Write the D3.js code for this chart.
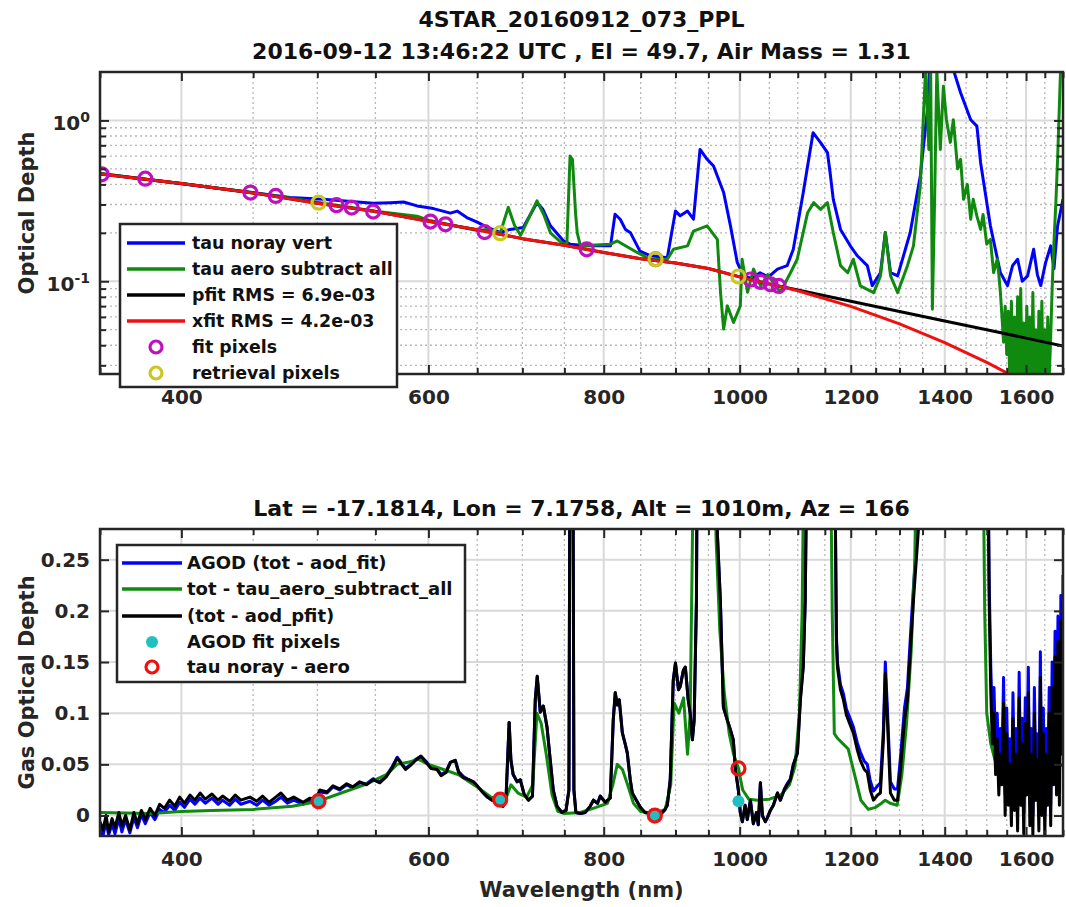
<!DOCTYPE html>
<html lang="en">
  <head>
    <meta charset="UTF-8" />
    <script src="https://d3js.org/d3.v7.min.js"></script>
    <title>4STAR optical depth</title>
    <style type="text/css">
      body {
        margin: 0;
        background: #fff;
      }
      svg {
        display: block;
        font-family: 'DejaVu Sans', sans-serif;
        font-weight: bold;
      }
      .grid-major {
        stroke: #d9d9d9;
        stroke-width: 2;
      }
      .grid-minor {
        stroke: #b8b8b8;
        stroke-width: 1.3;
        stroke-dasharray: 2 3;
      }
      .tick line {
        stroke: #262626;
        stroke-width: 2;
      }
      .tick text {
        fill: #262626;
        font-size: 20px;
        font-family: 'DejaVu Sans', sans-serif;
        font-weight: bold;
      }
      .frame {
        fill: none;
        stroke: #262626;
        stroke-width: 2.5;
      }
      .title {
        fill: #111;
        font-size: 22px;
        text-anchor: middle;
      }
      .axis-label {
        fill: #262626;
        font-size: 21px;
        text-anchor: middle;
      }
      .legend-box {
        fill: #fff;
        stroke: #262626;
        stroke-width: 2.5;
      }
      .legend-text {
        fill: #111;
      }
    </style>
  </head>
  <body>
    <svg width="1066" height="907"></svg>
  </body>
  <script type="text/javascript">
    // ---- values ----
    const xTickLabels = [400, 600, 800, 1000, 1200, 1400, 1600];
    const xMinorTicks = [350, 450, 500, 550, 650, 700, 750, 850, 900, 950, 1050, 1100, 1150, 1250, 1300, 1350, 1450, 1500, 1550, 1650, 1700];
    const topMajorY = [0.1, 1];
    const topMinorY = [0.03, 0.04, 0.05, 0.06, 0.07, 0.08, 0.09, 0.2, 0.3, 0.4, 0.5, 0.6, 0.7, 0.8, 0.9];
    const bottomYTicks = [0, 0.05, 0.1, 0.15, 0.2, 0.25];

    // top panel: [wavelength nm, optical depth]
    const tauNorayVert = [
      [350, 0.468], [377, 0.43], [448, 0.357], [478, 0.332], [505, 0.323], [534, 0.311], [548, 0.305], [564, 0.308],
      [576, 0.311], [589, 0.294], [605, 0.283], [622, 0.265], [629, 0.273], [639, 0.249], [650, 0.233], [661, 0.216],
      [675, 0.201], [686, 0.21], [701, 0.216], [717, 0.308], [724, 0.28], [733, 0.221], [749, 0.178], [757, 0.17],
      [778, 0.166], [809, 0.166], [815, 0.261], [822, 0.243], [829, 0.21], [836, 0.2], [849, 0.154], [864, 0.144],
      [888, 0.14], [900, 0.273], [907, 0.255], [918, 0.273], [927, 0.243], [937, 0.66], [948, 0.573], [958, 0.52],
      [974, 0.356], [985, 0.221], [996, 0.131], [1006, 0.108], [1020, 0.104], [1034, 0.113], [1048, 0.106], [1064, 0.119],
      [1081, 0.125], [1092, 0.158], [1110, 0.356], [1128, 0.839], [1142, 0.727], [1155, 0.63], [1160, 0.473], [1166, 0.323],
      [1180, 0.21], [1199, 0.166], [1213, 0.144], [1233, 0.125], [1243, 0.094], [1260, 0.113], [1270, 0.201], [1281, 0.113],
      [1296, 0.108], [1323, 0.201], [1345, 0.451], [1361, 1.17], [1368, 2.6], [1415, 2.6], [1420, 2.07], [1437, 1.486],
      [1461, 1.01], [1476, 0.922], [1485, 0.546], [1509, 0.221], [1534, 0.113], [1552, 0.094], [1565, 0.125], [1578, 0.137],
      [1590, 0.1], [1604, 0.108], [1620, 0.158], [1630, 0.11], [1639, 0.094], [1652, 0.13], [1666, 0.166], [1675, 0.12],
      [1685, 0.221], [1700, 0.323],
    ];
    const tauAeroSubtractAll = [
      [350, 0.468], [400, 0.405], [450, 0.355], [500, 0.31], [550, 0.272], [589, 0.254], [600, 0.24], [650, 0.207],
      [661, 0.21], [675, 0.199], [684, 0.288], [691, 0.223], [698, 0.193], [717, 0.316], [725, 0.26], [733, 0.2],
      [745, 0.176], [753, 0.168], [757, 0.6], [760, 0.57], [764, 0.26], [766, 0.2], [770, 0.166], [809, 0.17],
      [818, 0.178], [845, 0.151], [864, 0.137], [888, 0.137], [897, 0.158], [918, 0.166], [927, 0.205], [948, 0.221],
      [964, 0.182], [969, 0.0855], [974, 0.0504], [980, 0.0703], [990, 0.0554], [1001, 0.0703], [1004, 0.137], [1013, 0.0855],
      [1023, 0.119], [1035, 0.0935], [1047, 0.11], [1069, 0.0855], [1087, 0.113], [1099, 0.137], [1118, 0.267], [1129, 0.308],
      [1142, 0.28], [1155, 0.308], [1166, 0.201], [1180, 0.125], [1194, 0.113], [1205, 0.137], [1219, 0.0935], [1246, 0.085],
      [1260, 0.108], [1270, 0.201], [1281, 0.108], [1296, 0.085], [1317, 0.125], [1330, 0.166], [1345, 0.391], [1357, 2.17],
      [1364, 0.66], [1368, 2.4], [1372, 0.067], [1377, 0.32], [1382, 2.07], [1390, 0.66], [1397, 1.63], [1404, 1.01],
      [1413, 0.73], [1420, 1.01], [1430, 0.5], [1437, 0.573], [1444, 0.323], [1453, 0.4], [1461, 0.243], [1467, 0.323],
      [1476, 0.254], [1485, 0.21], [1491, 0.26], [1500, 0.17], [1509, 0.182], [1517, 0.113], [1526, 0.137], [1530, 0.11],
      [1534, 0.0855], [1538, 0.06], [1542, 0.0418], [1546, 0.07], [1550, 0.035], [1554, 0.065], [1558, 0.022], [1562, 0.075],
      [1566, 0.02], [1570, 0.06], [1574, 0.018], [1578, 0.08], [1582, 0.025], [1586, 0.09], [1590, 0.02], [1594, 0.055],
      [1598, 0.018], [1602, 0.07], [1606, 0.022], [1610, 0.06], [1614, 0.018], [1618, 0.085], [1622, 0.02], [1626, 0.05],
      [1630, 0.018], [1634, 0.065], [1638, 0.022], [1642, 0.075], [1646, 0.018], [1650, 0.05], [1654, 0.02], [1658, 0.06],
      [1662, 0.025], [1666, 0.045], [1670, 0.09], [1674, 0.158], [1680, 0.3], [1685, 0.573], [1693, 2.0], [1700, 2.5],
    ];
    const pfit = [
      [350, 0.464], [400, 0.405], [450, 0.354], [500, 0.305], [550, 0.271], [600, 0.236], [650, 0.209], [700, 0.184],
      [750, 0.1675], [800, 0.151], [850, 0.138], [900, 0.13], [950, 0.12], [1000, 0.1065], [1050, 0.096], [1066, 0.0935],
      [1100, 0.0883], [1200, 0.0751], [1300, 0.0649], [1400, 0.0566], [1500, 0.0499], [1600, 0.0443], [1700, 0.0396],
    ];
    const xfit = [
      [350, 0.464], [400, 0.405], [450, 0.354], [500, 0.305], [550, 0.271], [600, 0.236], [650, 0.209], [700, 0.184],
      [750, 0.1675], [800, 0.151], [850, 0.138], [900, 0.13], [950, 0.12], [1000, 0.1065], [1050, 0.096], [1066, 0.0935],
      [1100, 0.0873], [1200, 0.0698], [1300, 0.0543], [1400, 0.0415], [1500, 0.0313], [1600, 0.0233], [1700, 0.0172],
    ];
    const fitPixels = [
      [351, 0.462], [377, 0.434], [448, 0.356], [467, 0.339], [516, 0.297], [529, 0.287], [548, 0.271], [602, 0.235],
      [617, 0.226], [658, 0.202], [778, 0.158], [871, 0.137], [1018, 0.1025], [1035, 0.099], [1052, 0.0958], [1066, 0.0935],
    ];
    const retrievalPixels = [[501, 0.308], [675, 0.199], [871, 0.137], [998, 0.107]];

    // bottom panel: shared wavelength grid for the two AGOD curves
    const gasWl = [
      350, 351.7, 353.5, 355, 357, 358.7, 361, 362.8, 365, 367.6,
      370, 372.2, 374.6, 377, 380, 383, 386, 389, 392.4, 395.7,
      398.9, 402, 405.7, 409, 412.5, 416, 420.6, 424.8, 428, 433,
      437, 441, 447.7, 452.7, 457, 462, 467, 471, 476, 481,
      488.5, 494, 499, 502, 508, 513, 518.6, 524.7, 530, 536,
      542, 548, 554, 560, 565, 570, 575, 577.8, 582.6, 587.6,
      592.6, 597.6, 602.6, 608.5, 612.6, 617.6, 622, 627, 630.5, 635.5,
      641, 646, 650, 655.6, 661, 666, 672.7, 678, 681.4, 685,
      687, 689.5, 694, 697.6, 702, 707, 711.7, 715, 717.3, 720.9,
      724.5, 729, 732.8, 736.4, 741, 747, 752, 755.6, 757, 760.5,
      761.8, 764.3, 770, 776, 782.4, 786.6, 792, 795.5, 802, 808.6,
      812.6, 815.3, 818, 820.7, 824.8, 829, 831.6, 835.6, 838.4, 844,
      849.5, 856, 863.6, 870.7, 877.8, 883.7, 888, 892.3, 896.7, 900,
      904.4, 907, 911.7, 914.7, 919, 922, 925.3, 928, 931.5, 933,
      962, 964, 968.8, 973.6, 980, 984.8, 989.6, 993, 997.8, 1001,
      1004.4, 1009, 1012.6, 1017.7, 1022.7, 1028, 1031, 1034.6, 1038, 1043,
      1046.6, 1051.6, 1056.8, 1064, 1069, 1076, 1081, 1086.8, 1092, 1099.4,
      1104.8, 1110, 1113.6, 1117.5, 1168.2, 1172, 1174, 1179.8, 1185.6, 1191.5,
      1199.3, 1205, 1213, 1219, 1227, 1233, 1239, 1245.6, 1254, 1259.8,
      1266, 1270, 1274.4, 1280.7, 1289, 1295.7, 1302, 1310.6, 1317, 1323.4,
      1330, 1336.3, 1341, 1343, 1502, 1506, 1510, 1514, 1518, 1522,
      1526, 1530, 1534, 1538, 1542, 1546, 1550, 1554, 1558, 1562,
      1566, 1570, 1574, 1578, 1582, 1586, 1590, 1594, 1598, 1602,
      1606, 1610, 1614, 1618, 1622, 1626, 1630, 1634, 1638, 1642,
      1646, 1650, 1654, 1658, 1662, 1666, 1670, 1674, 1678, 1682,
      1686, 1690, 1694, 1698, 1700,
    ];
    const gasPfit = [
      -0.006, -0.014, 0.0, -0.016, -0.003, -0.012, 0.003, -0.01, 0.0, -0.014,
      0.003, -0.008, 0.005, -0.004, 0.007, 0.0, 0.011, 0.007, 0.015, 0.009,
      0.018, 0.012, 0.02, 0.015, 0.022, 0.016, 0.021, 0.015, 0.019, 0.014,
      0.02, 0.015, 0.018, 0.014, 0.019, 0.013, 0.018, 0.022, 0.015, 0.018,
      0.013, 0.017, 0.016, 0.025, 0.023, 0.029, 0.026, 0.031, 0.028, 0.033,
      0.03, 0.035, 0.032, 0.038, 0.046, 0.056, 0.049, 0.045, 0.049, 0.054,
      0.058, 0.052, 0.046, 0.045, 0.039, 0.042, 0.052, 0.054, 0.042, 0.037,
      0.035, 0.033, 0.029, 0.023, 0.018, 0.015, 0.013, 0.009, 0.015, 0.091,
      0.054, 0.04, 0.033, 0.035, 0.021, 0.015, 0.019, 0.113, 0.136, 0.101,
      0.107, 0.086, 0.054, 0.025, 0.009, 0.003, 0.005, 0.025, 0.4, 0.4,
      0.025, 0.003, 0.002, 0.003, 0.009, 0.015, 0.012, 0.019, 0.013, 0.017,
      0.093, 0.12, 0.108, 0.113, 0.081, 0.069, 0.061, 0.035, 0.022, 0.015,
      0.008, 0.003, 0.002, 0.0, 0.001, 0.005, 0.01, 0.035, 0.132, 0.149,
      0.123, 0.126, 0.142, 0.145, 0.113, 0.1, 0.074, 0.093, 0.21, 0.4,
      0.4, 0.276, 0.21, 0.106, 0.093, 0.084, 0.074, 0.045, 0.025, 0.003,
      -0.006, 0.01, -0.004, 0.015, -0.008, 0.003, -0.009, 0.032, 0.0, -0.006,
      -0.002, 0.005, 0.01, 0.022, 0.015, 0.025, 0.03, 0.035, 0.049, 0.061,
      0.113, 0.145, 0.21, 0.4, 0.4, 0.172, 0.145, 0.123, 0.113, 0.098,
      0.088, 0.081, 0.064, 0.054, 0.045, 0.042, 0.025, 0.015, 0.02, 0.022,
      0.074, 0.139, 0.093, 0.022, 0.015, 0.015, 0.045, 0.093, 0.113, 0.162,
      0.21, 0.25, 0.28, 0.4, 0.4, 0.21, 0.12, 0.07, 0.1, 0.04,
      0.075, 0.02, 0.06, 0.03, 0.11, 0.0, 0.08, 0.01, 0.05, -0.01,
      0.095, 0.005, 0.06, -0.015, 0.115, 0.01, 0.07, -0.018, 0.09, 0.02,
      0.12, -0.01, 0.06, -0.02, 0.1, 0.015, 0.055, -0.015, 0.135, 0.0,
      0.08, -0.02, 0.06, 0.01, 0.1, -0.01, 0.125, 0.03, 0.155, 0.02,
      0.17, 0.01, 0.19, 0.06, 0.21,
    ];
    const gasAgod = [
      -0.012, -0.02, -0.006, -0.019, -0.008, -0.018, -0.003, -0.016, -0.004, -0.017,
      -0.002, -0.012, 0.001, -0.008, 0.003, -0.004, 0.006, 0.003, 0.01, 0.005,
      0.013, 0.008, 0.016, 0.011, 0.017, 0.012, 0.017, 0.011, 0.015, 0.01,
      0.016, 0.011, 0.014, 0.01, 0.015, 0.01, 0.014, 0.018, 0.012, 0.015,
      0.011, 0.015, 0.014, 0.023, 0.022, 0.028, 0.025, 0.03, 0.027, 0.032,
      0.031, 0.036, 0.033, 0.039, 0.047, 0.057, 0.05, 0.046, 0.05, 0.055,
      0.058, 0.053, 0.047, 0.046, 0.04, 0.043, 0.052, 0.054, 0.043, 0.038,
      0.035, 0.033, 0.029, 0.023, 0.018, 0.015, 0.013, 0.009, 0.015, 0.091,
      0.054, 0.04, 0.033, 0.035, 0.021, 0.015, 0.019, 0.113, 0.136, 0.101,
      0.107, 0.086, 0.054, 0.025, 0.009, 0.003, 0.005, 0.025, 0.4, 0.4,
      0.025, 0.003, 0.002, 0.003, 0.009, 0.015, 0.012, 0.019, 0.013, 0.017,
      0.093, 0.12, 0.108, 0.113, 0.081, 0.069, 0.061, 0.035, 0.022, 0.015,
      0.008, 0.003, 0.002, 0.0, 0.001, 0.005, 0.01, 0.035, 0.132, 0.149,
      0.123, 0.126, 0.142, 0.145, 0.113, 0.1, 0.074, 0.093, 0.21, 0.4,
      0.4, 0.276, 0.21, 0.106, 0.093, 0.084, 0.074, 0.045, 0.025, 0.003,
      -0.006, 0.01, -0.004, 0.015, -0.008, 0.003, -0.009, 0.032, 0.0, -0.006,
      -0.002, 0.005, 0.01, 0.022, 0.015, 0.026, 0.031, 0.036, 0.05, 0.062,
      0.115, 0.147, 0.212, 0.4, 0.4, 0.177, 0.15, 0.128, 0.119, 0.104,
      0.094, 0.087, 0.071, 0.062, 0.053, 0.05, 0.034, 0.024, 0.029, 0.032,
      0.084, 0.15, 0.104, 0.033, 0.026, 0.026, 0.057, 0.105, 0.125, 0.175,
      0.223, 0.263, 0.294, 0.4, 0.4, 0.23, 0.145, 0.09, 0.125, 0.06,
      0.1, 0.04, 0.085, 0.05, 0.135, 0.02, 0.105, 0.03, 0.075, 0.01,
      0.12, 0.025, 0.085, 0.005, 0.14, 0.03, 0.095, 0.002, 0.115, 0.04,
      0.145, 0.01, 0.085, 0.0, 0.125, 0.035, 0.08, 0.005, 0.16, 0.02,
      0.105, 0.0, 0.085, 0.03, 0.125, 0.01, 0.15, 0.05, 0.18, 0.04,
      0.195, 0.03, 0.215, 0.08, 0.235,
    ];
    const gasSubtractAll = [
      [350, 0.003], [380, 0.002], [400, 0.004], [420, 0.005], [450, 0.006], [480, 0.009], [501, 0.014], [520, 0.022],
      [540, 0.03], [560, 0.04], [570, 0.05], [580, 0.052], [590, 0.055], [600, 0.05], [615, 0.045], [630, 0.04],
      [650, 0.028], [665, 0.018], [675, 0.015], [682, 0.018], [687, 0.03], [695, 0.022], [705, 0.018], [712, 0.03],
      [717, 0.1], [722, 0.09], [728, 0.06], [735, 0.02], [742, 0.004], [750, 0.002], [770, 0.003], [790, 0.008],
      [805, 0.012], [812, 0.03], [818, 0.05], [825, 0.045], [832, 0.03], [840, 0.012], [850, 0.004], [870, 0.002],
      [885, 0.006], [893, 0.03], [898, 0.11], [905, 0.1], [912, 0.115], [918, 0.06], [922, 0.1], [925, 0.25],
      [928, 0.4], [958, 0.4], [962, 0.27], [968, 0.18], [975, 0.12], [983, 0.08], [990, 0.06], [998, 0.046],
      [1005, 0.025], [1015, 0.016], [1030, 0.015], [1050, 0.016], [1070, 0.02], [1085, 0.03], [1095, 0.048], [1103, 0.1],
      [1108, 0.2], [1112, 0.4], [1160, 0.4], [1164, 0.2], [1168, 0.08], [1175, 0.075], [1185, 0.07], [1195, 0.065],
      [1210, 0.035], [1220, 0.015], [1235, 0.006], [1250, 0.008], [1262, 0.012], [1270, 0.015], [1280, 0.012], [1295, 0.01],
      [1305, 0.04], [1315, 0.09], [1325, 0.16], [1333, 0.25], [1338, 0.4], [1490, 0.4], [1495, 0.2], [1500, 0.1],
      [1510, 0.07], [1530, 0.04], [1560, 0.03], [1600, 0.03], [1650, 0.04], [1700, 0.05],
    ];
    const agodFitPixels = [[501, 0.014], [675, 0.0155], [870, 0.0], [998, 0.014]];
    const tauNorayMinusAero = [[501, 0.014], [675, 0.0155], [870, 0.0], [998, 0.046]];

    // ---- layout ----
    const left = 100;
    const right = 1063;
    const topPanel = { top: 72, bottom: 374 };
    const botPanel = { top: 529, bottom: 836 };

    const svg = d3.select('svg');

    const x = d3.scaleLog().domain([350, 1700]).range([left, right]);
    const yTop = d3.scaleLog().domain([0.0265, 2]).range([topPanel.bottom, topPanel.top]);
    const yBot = d3.scaleLinear().domain([-0.02, 0.28]).range([botPanel.bottom, botPanel.top]);

    const defs = svg.append('defs');
    [['clip-top', topPanel], ['clip-bot', botPanel]].forEach(([id, p]) => {
      defs.append('clipPath').attr('id', id)
        .append('rect').attr('x', left).attr('y', p.top).attr('width', right - left).attr('height', p.bottom - p.top);
    });

    // grid lines under everything
    function drawGrid(g, p, yScale, yMajor, yMinor) {
      g.selectAll('.vminor').data(xMinorTicks).enter().append('line').attr('class', 'grid-minor')
        .attr('x1', (d) => x(d)).attr('x2', (d) => x(d)).attr('y1', p.top).attr('y2', p.bottom);
      g.selectAll('.vmajor').data(xTickLabels).enter().append('line').attr('class', 'grid-major')
        .attr('x1', (d) => x(d)).attr('x2', (d) => x(d)).attr('y1', p.top).attr('y2', p.bottom);
      g.selectAll('.hminor').data(yMinor).enter().append('line').attr('class', 'grid-minor')
        .attr('x1', left).attr('x2', right).attr('y1', (d) => yScale(d)).attr('y2', (d) => yScale(d));
      g.selectAll('.hmajor').data(yMajor).enter().append('line').attr('class', 'grid-major')
        .attr('x1', left).attr('x2', right).attr('y1', (d) => yScale(d)).attr('y2', (d) => yScale(d));
    }

    // box + inward ticks on all four sides
    function drawAxes(g, p, yScale, yMajor, yMinor, yFormat) {
      const noDomain = (a) => a.select('.domain').remove();
      g.append('g').attr('transform', `translate(0,${p.bottom})`)
        .call(d3.axisBottom(x).tickValues(xTickLabels).tickFormat(d3.format('d')).tickSize(-9).tickPadding(16))
        .call(noDomain);
      g.append('g').attr('transform', `translate(0,${p.bottom})`)
        .call(d3.axisBottom(x).tickValues(xMinorTicks).tickFormat('').tickSize(-6)).call(noDomain);
      g.append('g').attr('transform', `translate(0,${p.top})`)
        .call(d3.axisTop(x).tickValues(xTickLabels).tickFormat('').tickSize(-9)).call(noDomain);
      g.append('g').attr('transform', `translate(0,${p.top})`)
        .call(d3.axisTop(x).tickValues(xMinorTicks).tickFormat('').tickSize(-6)).call(noDomain);

      const yl = g.append('g').attr('transform', `translate(${left},0)`)
        .call(d3.axisLeft(yScale).tickValues(yMajor).tickFormat(yFormat).tickSize(-9).tickPadding(10))
        .call(noDomain);
      g.append('g').attr('transform', `translate(${right},0)`)
        .call(d3.axisRight(yScale).tickValues(yMajor).tickFormat('').tickSize(-9)).call(noDomain);
      if (yMinor.length) {
        g.append('g').attr('transform', `translate(${left},0)`)
          .call(d3.axisLeft(yScale).tickValues(yMinor).tickFormat('').tickSize(-6)).call(noDomain);
        g.append('g').attr('transform', `translate(${right},0)`)
          .call(d3.axisRight(yScale).tickValues(yMinor).tickFormat('').tickSize(-6)).call(noDomain);
      }
      g.append('rect').attr('class', 'frame')
        .attr('x', left).attr('y', p.top).attr('width', right - left).attr('height', p.bottom - p.top);
      return yl;
    }

    function addLegend(g, box, rows) {
      g.append('rect').attr('class', 'legend-box')
        .attr('x', box.x).attr('y', box.y).attr('width', box.w).attr('height', box.h);
      rows.forEach((r) => {
        const cx = (box.lx1 + box.lx2) / 2;
        if (r.kind === 'line') {
          g.append('line').attr('x1', box.lx1).attr('x2', box.lx2).attr('y1', r.y).attr('y2', r.y)
            .attr('stroke', r.color).attr('stroke-width', 3.5);
        } else if (r.kind === 'ring') {
          g.append('circle').attr('cx', cx).attr('cy', r.y).attr('r', 6)
            .attr('fill', 'none').attr('stroke', r.color).attr('stroke-width', 3.2);
        } else {
          g.append('circle').attr('cx', cx).attr('cy', r.y).attr('r', 6).attr('fill', r.color);
        }
        g.append('text').attr('class', 'legend-text').attr('x', box.tx).attr('y', r.y).attr('dy', '0.36em')
          .attr('font-size', box.fs + 'px').text(r.label);
      });
    }

    const blue = '#0000ff';
    const green = '#0f8a0f';
    const red = '#f01010';
    const magenta = '#bf10bf';
    const yellow = '#c8c81e';
    const cyan = '#20c0c0';

    // ---------------- top panel ----------------
    const gTop = svg.append('g');
    drawGrid(gTop, topPanel, yTop, topMajorY, topMinorY);

    const topLine = d3.line().x((d) => x(d[0])).y((d) => yTop(d[1]));
    const topData = gTop.append('g').attr('clip-path', 'url(#clip-top)');
    [[tauNorayVert, blue], [tauAeroSubtractAll, green], [pfit, '#000'], [xfit, red]].forEach(([d, c]) => {
      topData.append('path').datum(d).attr('d', topLine)
        .attr('fill', 'none').attr('stroke', c).attr('stroke-width', 3).attr('stroke-linejoin', 'round');
    });
    topData.selectAll('.fitpx').data(fitPixels).enter().append('circle')
      .attr('cx', (d) => x(d[0])).attr('cy', (d) => yTop(d[1])).attr('r', 6.5)
      .attr('fill', 'none').attr('stroke', magenta).attr('stroke-width', 3.2);
    topData.selectAll('.retpx').data(retrievalPixels).enter().append('circle')
      .attr('cx', (d) => x(d[0])).attr('cy', (d) => yTop(d[1])).attr('r', 6.5)
      .attr('fill', 'none').attr('stroke', yellow).attr('stroke-width', 3.2);

    const ylTop = drawAxes(gTop, topPanel, yTop, topMajorY, topMinorY, () => '');
    // 10^n labels with a raised exponent
    ylTop.selectAll('.tick text').each(function (d) {
      const t = d3.select(this).attr('dy', '0.45em');
      t.append('tspan').text('10');
      t.append('tspan').attr('dy', '-0.55em').attr('font-size', '14px').text(Math.round(Math.log10(d)));
    });

    addLegend(gTop, { x: 120, y: 224, w: 277, h: 163, lx1: 127, lx2: 185, tx: 192, fs: 17.4 }, [
      { kind: 'line', color: blue, y: 243, label: 'tau noray vert' },
      { kind: 'line', color: green, y: 269, label: 'tau aero subtract all' },
      { kind: 'line', color: '#000', y: 295, label: 'pfit RMS = 6.9e-03' },
      { kind: 'line', color: red, y: 321, label: 'xfit RMS = 4.2e-03' },
      { kind: 'ring', color: magenta, y: 347, label: 'fit pixels' },
      { kind: 'ring', color: yellow, y: 373, label: 'retrieval pixels' },
    ]);

    svg.append('text').attr('class', 'title').attr('x', (left + right) / 2).attr('y', 27).text('4STAR_20160912_073_PPL');
    svg.append('text').attr('class', 'title').attr('x', (left + right) / 2).attr('y', 59)
      .text('2016-09-12 13:46:22 UTC , El = 49.7, Air Mass = 1.31');
    svg.append('text').attr('class', 'axis-label').attr('transform', 'translate(27,213) rotate(-90)')
      .attr('dy', '0.35em').text('Optical Depth');

    // ---------------- bottom panel ----------------
    const gBot = svg.append('g');
    drawGrid(gBot, botPanel, yBot, bottomYTicks, []);

    const gasLine = d3.line().x((d, i) => x(gasWl[i])).y((d) => yBot(d));
    const pairLine = d3.line().x((d) => x(d[0])).y((d) => yBot(d[1]));
    const botData = gBot.append('g').attr('clip-path', 'url(#clip-bot)');
    botData.append('path').datum(gasAgod).attr('d', gasLine)
      .attr('fill', 'none').attr('stroke', blue).attr('stroke-width', 3).attr('stroke-linejoin', 'round');
    botData.append('path').datum(gasSubtractAll).attr('d', pairLine)
      .attr('fill', 'none').attr('stroke', green).attr('stroke-width', 3).attr('stroke-linejoin', 'round');
    botData.append('path').datum(gasPfit).attr('d', gasLine)
      .attr('fill', 'none').attr('stroke', '#000').attr('stroke-width', 3).attr('stroke-linejoin', 'round');
    botData.selectAll('.agodpx').data(agodFitPixels).enter().append('circle')
      .attr('cx', (d) => x(d[0])).attr('cy', (d) => yBot(d[1])).attr('r', 6).attr('fill', cyan);
    botData.selectAll('.noray').data(tauNorayMinusAero).enter().append('circle')
      .attr('cx', (d) => x(d[0])).attr('cy', (d) => yBot(d[1])).attr('r', 6.5)
      .attr('fill', 'none').attr('stroke', red).attr('stroke-width', 3.2);

    drawAxes(gBot, botPanel, yBot, bottomYTicks, [], (d) => (d === 0 ? '0' : d3.format('')(d)));

    addLegend(gBot, { x: 117, y: 545, w: 348, h: 137, lx1: 122, lx2: 182, tx: 187, fs: 18 }, [
      { kind: 'line', color: blue, y: 563, label: 'AGOD (tot - aod_fit)' },
      { kind: 'line', color: green, y: 589, label: 'tot - tau_aero_subtract_all' },
      { kind: 'line', color: '#000', y: 616, label: '(tot - aod_pfit)' },
      { kind: 'dot', color: cyan, y: 642, label: 'AGOD fit pixels' },
      { kind: 'ring', color: red, y: 667, label: 'tau noray - aero' },
    ]);

    svg.append('text').attr('class', 'title').attr('x', (left + right) / 2).attr('y', 516)
      .text('Lat = -17.1814, Lon = 7.1758, Alt = 1010m, Az = 166');
    svg.append('text').attr('class', 'axis-label').attr('transform', `translate(27,${(botPanel.top + botPanel.bottom) / 2}) rotate(-90)`)
      .attr('dy', '0.35em').text('Gas Optical Depth');
    svg.append('text').attr('class', 'axis-label').attr('x', (left + right) / 2).attr('y', 897).text('Wavelength (nm)');
  </script>
</html>
